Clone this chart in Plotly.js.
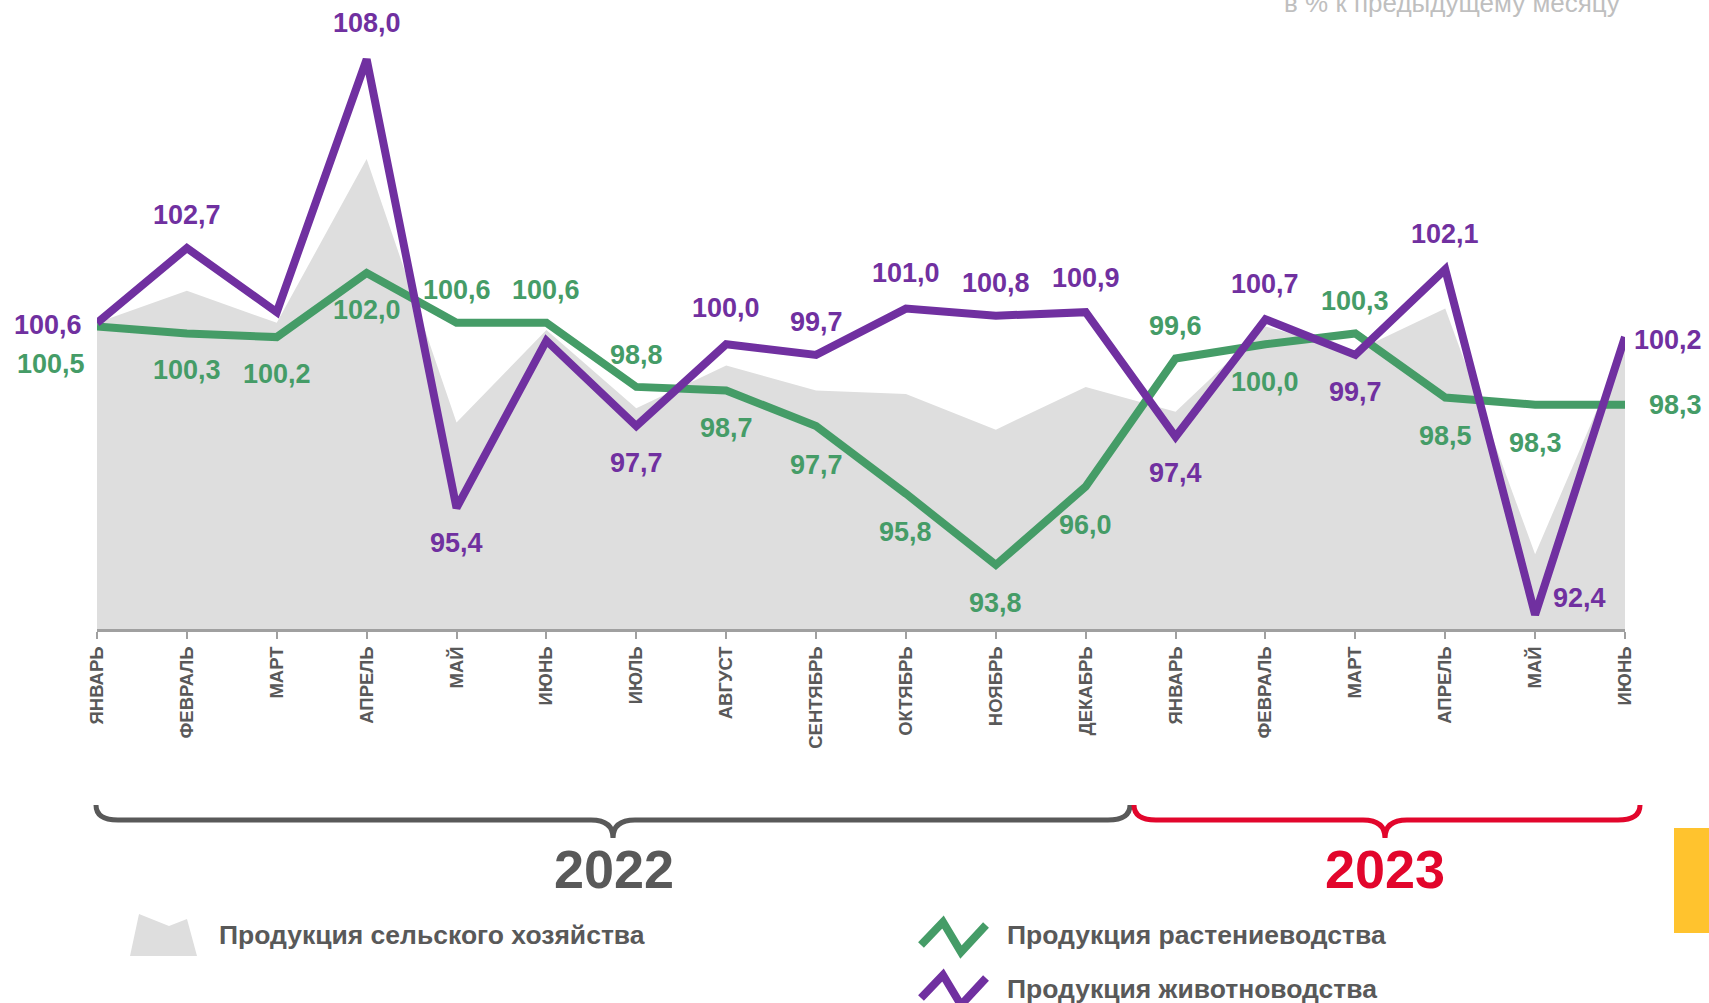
<!DOCTYPE html>
<html>
<head>
<meta charset="utf-8">
<script src="https://cdn.plot.ly/plotly-3.0.1.min.js"></script>
<style>
html,body{margin:0;padding:0;background:#fff;}
#chart{width:1709px;height:1003px;}
</style>
</head>
<body>
<div id="chart"></div>
<script>
// ---------- DATA ----------
var months = ['ЯНВАРЬ','ФЕВРАЛЬ','МАРТ','АПРЕЛЬ','МАЙ','ИЮНЬ','ИЮЛЬ','АВГУСТ','СЕНТЯБРЬ','ОКТЯБРЬ','НОЯБРЬ','ДЕКАБРЬ',
              'ЯНВАРЬ','ФЕВРАЛЬ','МАРТ','АПРЕЛЬ','МАЙ','ИЮНЬ'];
var years = ['2022', '2023'];
// Продукция сельского хозяйства (area)
var agriculture = [100.6, 101.5, 100.6, 105.2, 97.8, 100.4, 98.2, 99.4, 98.7, 98.6, 97.6, 98.8,
                   98.1, 100.5, 99.8, 101.0, 94.1, 100.0];
// Продукция растениеводства
var cropProduction = [100.5, 100.3, 100.2, 102.0, 100.6, 100.6, 98.8, 98.7, 97.7, 95.8, 93.8, 96.0,
                      99.6, 100.0, 100.3, 98.5, 98.3, 98.3];
// Продукция животноводства
var livestockProduction = [100.6, 102.7, 100.9, 108.0, 95.4, 100.1, 97.7, 100.0, 99.7, 101.0, 100.8, 100.9,
                           97.4, 100.7, 99.7, 102.1, 92.4, 100.2];
var seriesNames = ['Продукция сельского хозяйства', 'Продукция растениеводства', 'Продукция животноводства'];
var unitsNote = 'в % к предыдущему месяцу';

// ---------- STYLE / LABEL PLACEMENT (pixel offsets of value labels) ----------
var purpleOffsets = [[-49,-2],[0,33],null,[0,36],[0,-35],null,[0,-37],[0,36],[0,33],[0,36],[0,33],[0,34],
                     [0,-36],[0,35],[0,-37],[0,35],[44,17],[43,-3]];
var greenOffsets = [[-46,-38],[0,-36],[0,-37],[0,-37],[0,33],[0,33],[0,32],[0,-38],[0,-39],[0,-38],[0,-38],[0,-38],
                    [0,32],[0,-38],[0,33],[0,-38],[0,-38],[50,0]];

var PURPLE = '#7030a0', GREEN = '#459c67', GREYFILL = '#dedede', DARK = '#595959', RED = '#e2062c';
var FONT = 'Liberation Sans, Arial, sans-serif';

// plot area in pixels
var W = 1709, H = 1003, L = 97, R = 84, T = 30, B = 374;
var PW = W - L - R, PH = H - T - B;
function px(x){ return (x - L) / PW; }
function py(y){ return (H - B - y) / PH; }
function fmt(v){ return v.toFixed(1).replace('.', ','); }

var idx = months.map(function(_, i){ return i; });

var traces = [
  {x: idx, y: agriculture, type: 'scatter', mode: 'lines', fill: 'tozeroy', fillcolor: GREYFILL,
   line: {width: 0, color: GREYFILL}, name: seriesNames[0], hoverinfo: 'skip'},
  {x: idx, y: cropProduction, type: 'scatter', mode: 'lines', line: {width: 8, color: GREEN},
   name: seriesNames[1], cliponaxis: false},
  {x: idx, y: livestockProduction, type: 'scatter', mode: 'lines', line: {width: 8, color: PURPLE},
   name: seriesNames[2], cliponaxis: false}
];

var annotations = [];
function addLabels(vals, offs, color){
  vals.forEach(function(v, i){
    if (!offs[i]) return;
    annotations.push({x: i, y: v, xref: 'x', yref: 'y', text: '<b>' + fmt(v) + '</b>', showarrow: false,
      xanchor: 'center', yanchor: 'middle', xshift: offs[i][0], yshift: offs[i][1],
      font: {family: FONT, size: 27, color: color}});
  });
}
addLabels(cropProduction, greenOffsets, GREEN);
addLabels(livestockProduction, purpleOffsets, PURPLE);

// year labels
annotations.push({xref: 'paper', yref: 'paper', x: px(614), y: py(869), text: '<b>' + years[0] + '</b>', showarrow: false,
  xanchor: 'center', yanchor: 'middle', font: {family: FONT, size: 54, color: DARK}});
annotations.push({xref: 'paper', yref: 'paper', x: px(1385), y: py(869), text: '<b>' + years[1] + '</b>', showarrow: false,
  xanchor: 'center', yanchor: 'middle', font: {family: FONT, size: 54, color: RED}});
// units note
annotations.push({xref: 'paper', yref: 'paper', x: px(1622), y: py(3), text: unitsNote, showarrow: false,
  xanchor: 'right', yanchor: 'middle', font: {family: FONT, size: 26, color: '#bfbfbf'}});
// legend texts
annotations.push({xref: 'paper', yref: 'paper', x: px(217), y: py(935), text: '<b>' + seriesNames[0] + '</b>', showarrow: false,
  xanchor: 'left', yanchor: 'middle', font: {family: FONT, size: 26.5, color: DARK}});
annotations.push({xref: 'paper', yref: 'paper', x: px(1005), y: py(935), text: '<b>' + seriesNames[1] + '</b>', showarrow: false,
  xanchor: 'left', yanchor: 'middle', font: {family: FONT, size: 26.5, color: DARK}});
annotations.push({xref: 'paper', yref: 'paper', x: px(1005), y: py(989), text: '<b>' + seriesNames[2] + '</b>', showarrow: false,
  xanchor: 'left', yanchor: 'middle', font: {family: FONT, size: 26.5, color: DARK}});

function pathFrom(cmds){
  return cmds.map(function(c){
    var s = c[0];
    for (var k = 1; k < c.length; k += 2) s += (k > 1 ? ' ' : '') + px(c[k]).toFixed(5) + ',' + py(c[k+1]).toFixed(5) + ' ';
    return s;
  }).join(' ');
}
function brace(x0, x1, xm, yTop, yBar, yTip, r){
  return pathFrom([
    ['M', x0, yTop], ['Q', x0, yBar, x0 + r, yBar], ['L', xm - r, yBar], ['Q', xm, yBar, xm, yTip],
    ['Q', xm, yBar, xm + r, yBar], ['L', x1 - r, yBar], ['Q', x1, yBar, x1, yTop]
  ]);
}
function zig(dy){
  return pathFrom([['M', 921, 945 + dy], ['L', 943, 922 + dy], ['L', 961, 952 + dy], ['L', 986, 925 + dy]]);
}

var shapes = [
  {type: 'path', xref: 'paper', yref: 'paper', path: brace(96, 1130, 613, 805, 820, 838, 22), line: {color: DARK, width: 5}},
  {type: 'path', xref: 'paper', yref: 'paper', path: brace(1134, 1640, 1385, 805, 820, 838, 22), line: {color: RED, width: 5}},
  {type: 'rect', xref: 'paper', yref: 'paper', x0: px(1674), x1: px(1715), y0: py(933), y1: py(828),
   fillcolor: '#ffc32e', line: {width: 0}},
  {type: 'path', xref: 'paper', yref: 'paper',
   path: pathFrom([['M', 130, 956], ['L', 139, 914], ['L', 169, 926], ['L', 187, 919], ['L', 197, 956]]) + ' Z',
   fillcolor: GREYFILL, line: {width: 0}},
  {type: 'path', xref: 'paper', yref: 'paper', path: zig(0), line: {color: GREEN, width: 8}},
  {type: 'path', xref: 'paper', yref: 'paper', path: zig(53), line: {color: PURPLE, width: 8}}
];

var layout = {
  width: W, height: H,
  margin: {l: L, r: R, t: T, b: B, pad: 0},
  paper_bgcolor: '#ffffff', plot_bgcolor: 'rgba(0,0,0,0)',
  showlegend: false,
  font: {family: FONT},
  xaxis: {
    range: [0, months.length - 1], tickmode: 'array', tickvals: idx,
    ticktext: months.map(function(m){ return '<b>' + m + '</b>'; }),
    tickangle: -90, tickfont: {family: FONT, size: 18.5, color: DARK},
    ticks: 'outside', ticklen: 7, tickwidth: 2, tickcolor: '#a0a0a0',
    showline: true, linecolor: '#a0a0a0', linewidth: 3,
    showgrid: false, zeroline: false, fixedrange: true
  },
  yaxis: {range: [92, 92 + PH / 35.6], visible: false, showgrid: false, zeroline: false, fixedrange: true},
  annotations: annotations,
  shapes: shapes
};

Plotly.newPlot('chart', traces, layout, {staticPlot: true, displayModeBar: false});
</script>
</body>
</html>
